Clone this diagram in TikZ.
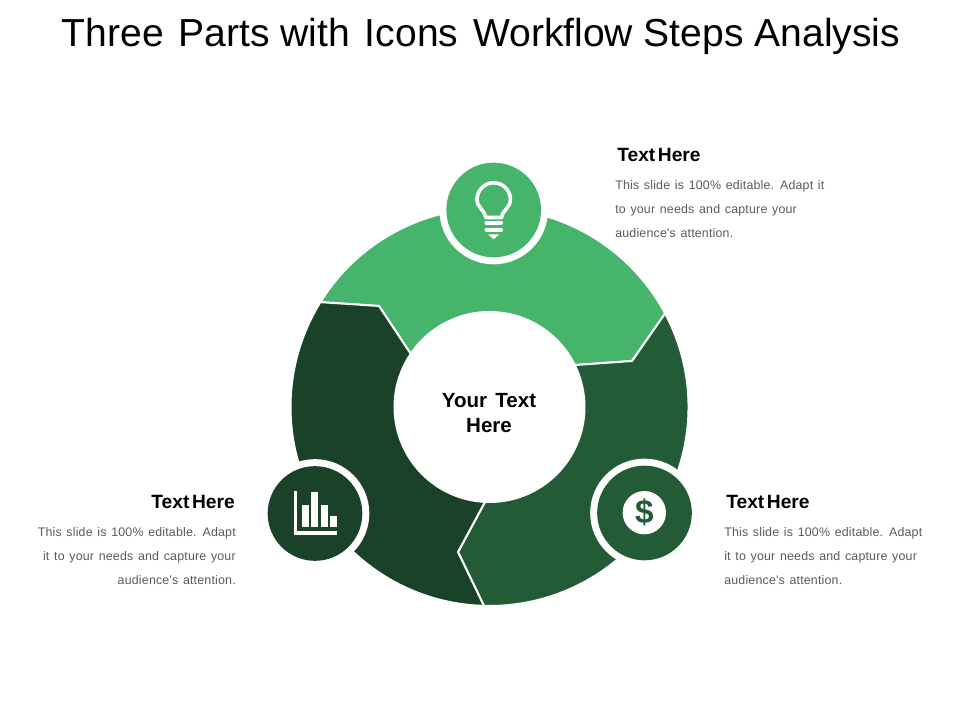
\documentclass[tikz,border=0pt]{standalone}
\usepackage{fontspec}
\setmainfont{Liberation Sans}
\newfontfamily\bodyfont[LetterSpace=1.5,WordSpace=1.3]{Liberation Sans}
\definecolor{lightg}{RGB}{70,181,107}
\definecolor{midg}{RGB}{35,91,55}
\definecolor{darkg}{RGB}{26,66,40}
\definecolor{bodyg}{RGB}{89,89,89}
\tikzset{
  x=0.75pt,y=0.75pt,
  segment/.style={draw=white,line width=1.5pt,line join=miter},
  ring/.style={circle,fill=white,minimum size=81.5pt,inner sep=0pt,outer sep=0pt},
  badge/.style={circle,minimum size=71pt,inner sep=0pt,outer sep=0pt},
  heading/.style={inner sep=0pt,font=\bfseries\fontsize{14.4}{16}\selectfont,text=black},
  body/.style={inner sep=0pt,font=\bodyfont\fontsize{9.3}{18}\selectfont,text=bodyg},
  iconline/.style={draw=white,line width=2.7pt},
}
\begin{document}
\begin{tikzpicture}
\useasboundingbox (0,0) rectangle (960,720);
\coordinate (c) at (489.5,313);
% segments
\fill[lightg,segment] ([shift={(148.2:199)}]c) arc[start angle=148.2,end angle=28.05,radius=199] -- (632,359) -- ([shift={(26.2:95)}]c) arc[start angle=26.2,end angle=146,radius=95] -- (379,414) -- cycle;
\fill[midg,segment] ([shift={(28.05:199)}]c) arc[start angle=28.05,end angle=-91.6,radius=199] -- (458,168) -- ([shift={(-92.7:95)}]c) arc[start angle=-92.7,end angle=26.2,radius=95] -- (632,359) -- cycle;
\fill[darkg,segment] ([shift={(-91.6:199)}]c) arc[start angle=268.4,end angle=148.2,radius=199] -- (379,414) -- ([shift={(146:95)}]c) arc[start angle=146,end angle=267.3,radius=95] -- (458,168) -- cycle;
% centre
\node[circle,fill=white,minimum size=141.5pt,inner sep=0pt] (centre) at (c) {};
\node[inner sep=0pt,align=center,font=\bfseries\fontsize{15.4}{18.75}\selectfont] (centrelabel) at (489,307) {Your\hspace{0.4em}Text\\Here};
% rings and badges
\node[ring] (ringa) at (493.7,510) {};
\node[ring] (ringb) at (315,206.5) {};
\node[ring] (ringc) at (644.5,207) {};
\node[badge,fill=lightg] (top) at (493.7,510) {};
\node[badge,fill=darkg] (left) at (315,206.5) {};
\node[badge,fill=midg] (right) at (644.5,207) {};
% bulb
\draw[iconline,line join=round] (485.8,502.5) .. controls (485.8,509) and (477,512) .. (477,520.5) arc[start angle=180,end angle=0,radius=16.7] .. controls (510.4,512) and (501.6,509) .. (501.6,502.5) -- cycle;
\draw[white,line width=3.1pt,line cap=round] (486.5,497.3) -- (501,497.3);
\draw[white,line width=3.1pt,line cap=round] (486.5,490.3) -- (501,490.3);
\fill[white,rounded corners=0.5pt] (488,485.6) -- (499.4,485.6) -- (493.7,480.6) -- cycle;
% chart
\draw[iconline,line cap=butt] (295.5,228.5) -- (295.5,187) -- (337,187);
\fill[white] (301.7,193.3) rectangle (309,215);
\fill[white] (310.7,193.3) rectangle (318.3,227.7);
\fill[white] (320.7,193.3) rectangle (328,215);
\fill[white] (329.7,193.3) rectangle (337,204.3);
% dollar
\node[circle,fill=white,minimum size=32.5pt,inner sep=0pt,text=midg,font=\bfseries\fontsize{25}{25}\selectfont] (dollar) at (644.3,207.3) {\$};
% title
\node[inner sep=0pt,font=\fontsize{29.3}{34}\selectfont,text=black] (title) at (481,684) {Three\hspace{0.1em} Parts with\hspace{0.1em} Icons\hspace{0.1em} Workflow Steps Analysis};
% text blocks
\node[heading,anchor=base west] (h1) at (617,558) {Text\hspace{-0.14em} Here};
\node[body,anchor=base west,align=left] (b1) at (615,482) {This slide is 100\% editable. Adapt it\\to your needs and capture your\\audience's attention.};
\node[heading,anchor=base east] (h2) at (235,211) {Text\hspace{-0.14em} Here};
\node[body,anchor=base east,align=right] (b2) at (236,135) {This slide is 100\% editable. Adapt\\it to your needs and capture your\\audience's attention.};
\node[heading,anchor=base west] (h3) at (726,211) {Text\hspace{-0.14em} Here};
\node[body,anchor=base west,align=left] (b3) at (724,135) {This slide is 100\% editable. Adapt\\it to your needs and capture your\\audience's attention.};
\end{tikzpicture}
\end{document}
